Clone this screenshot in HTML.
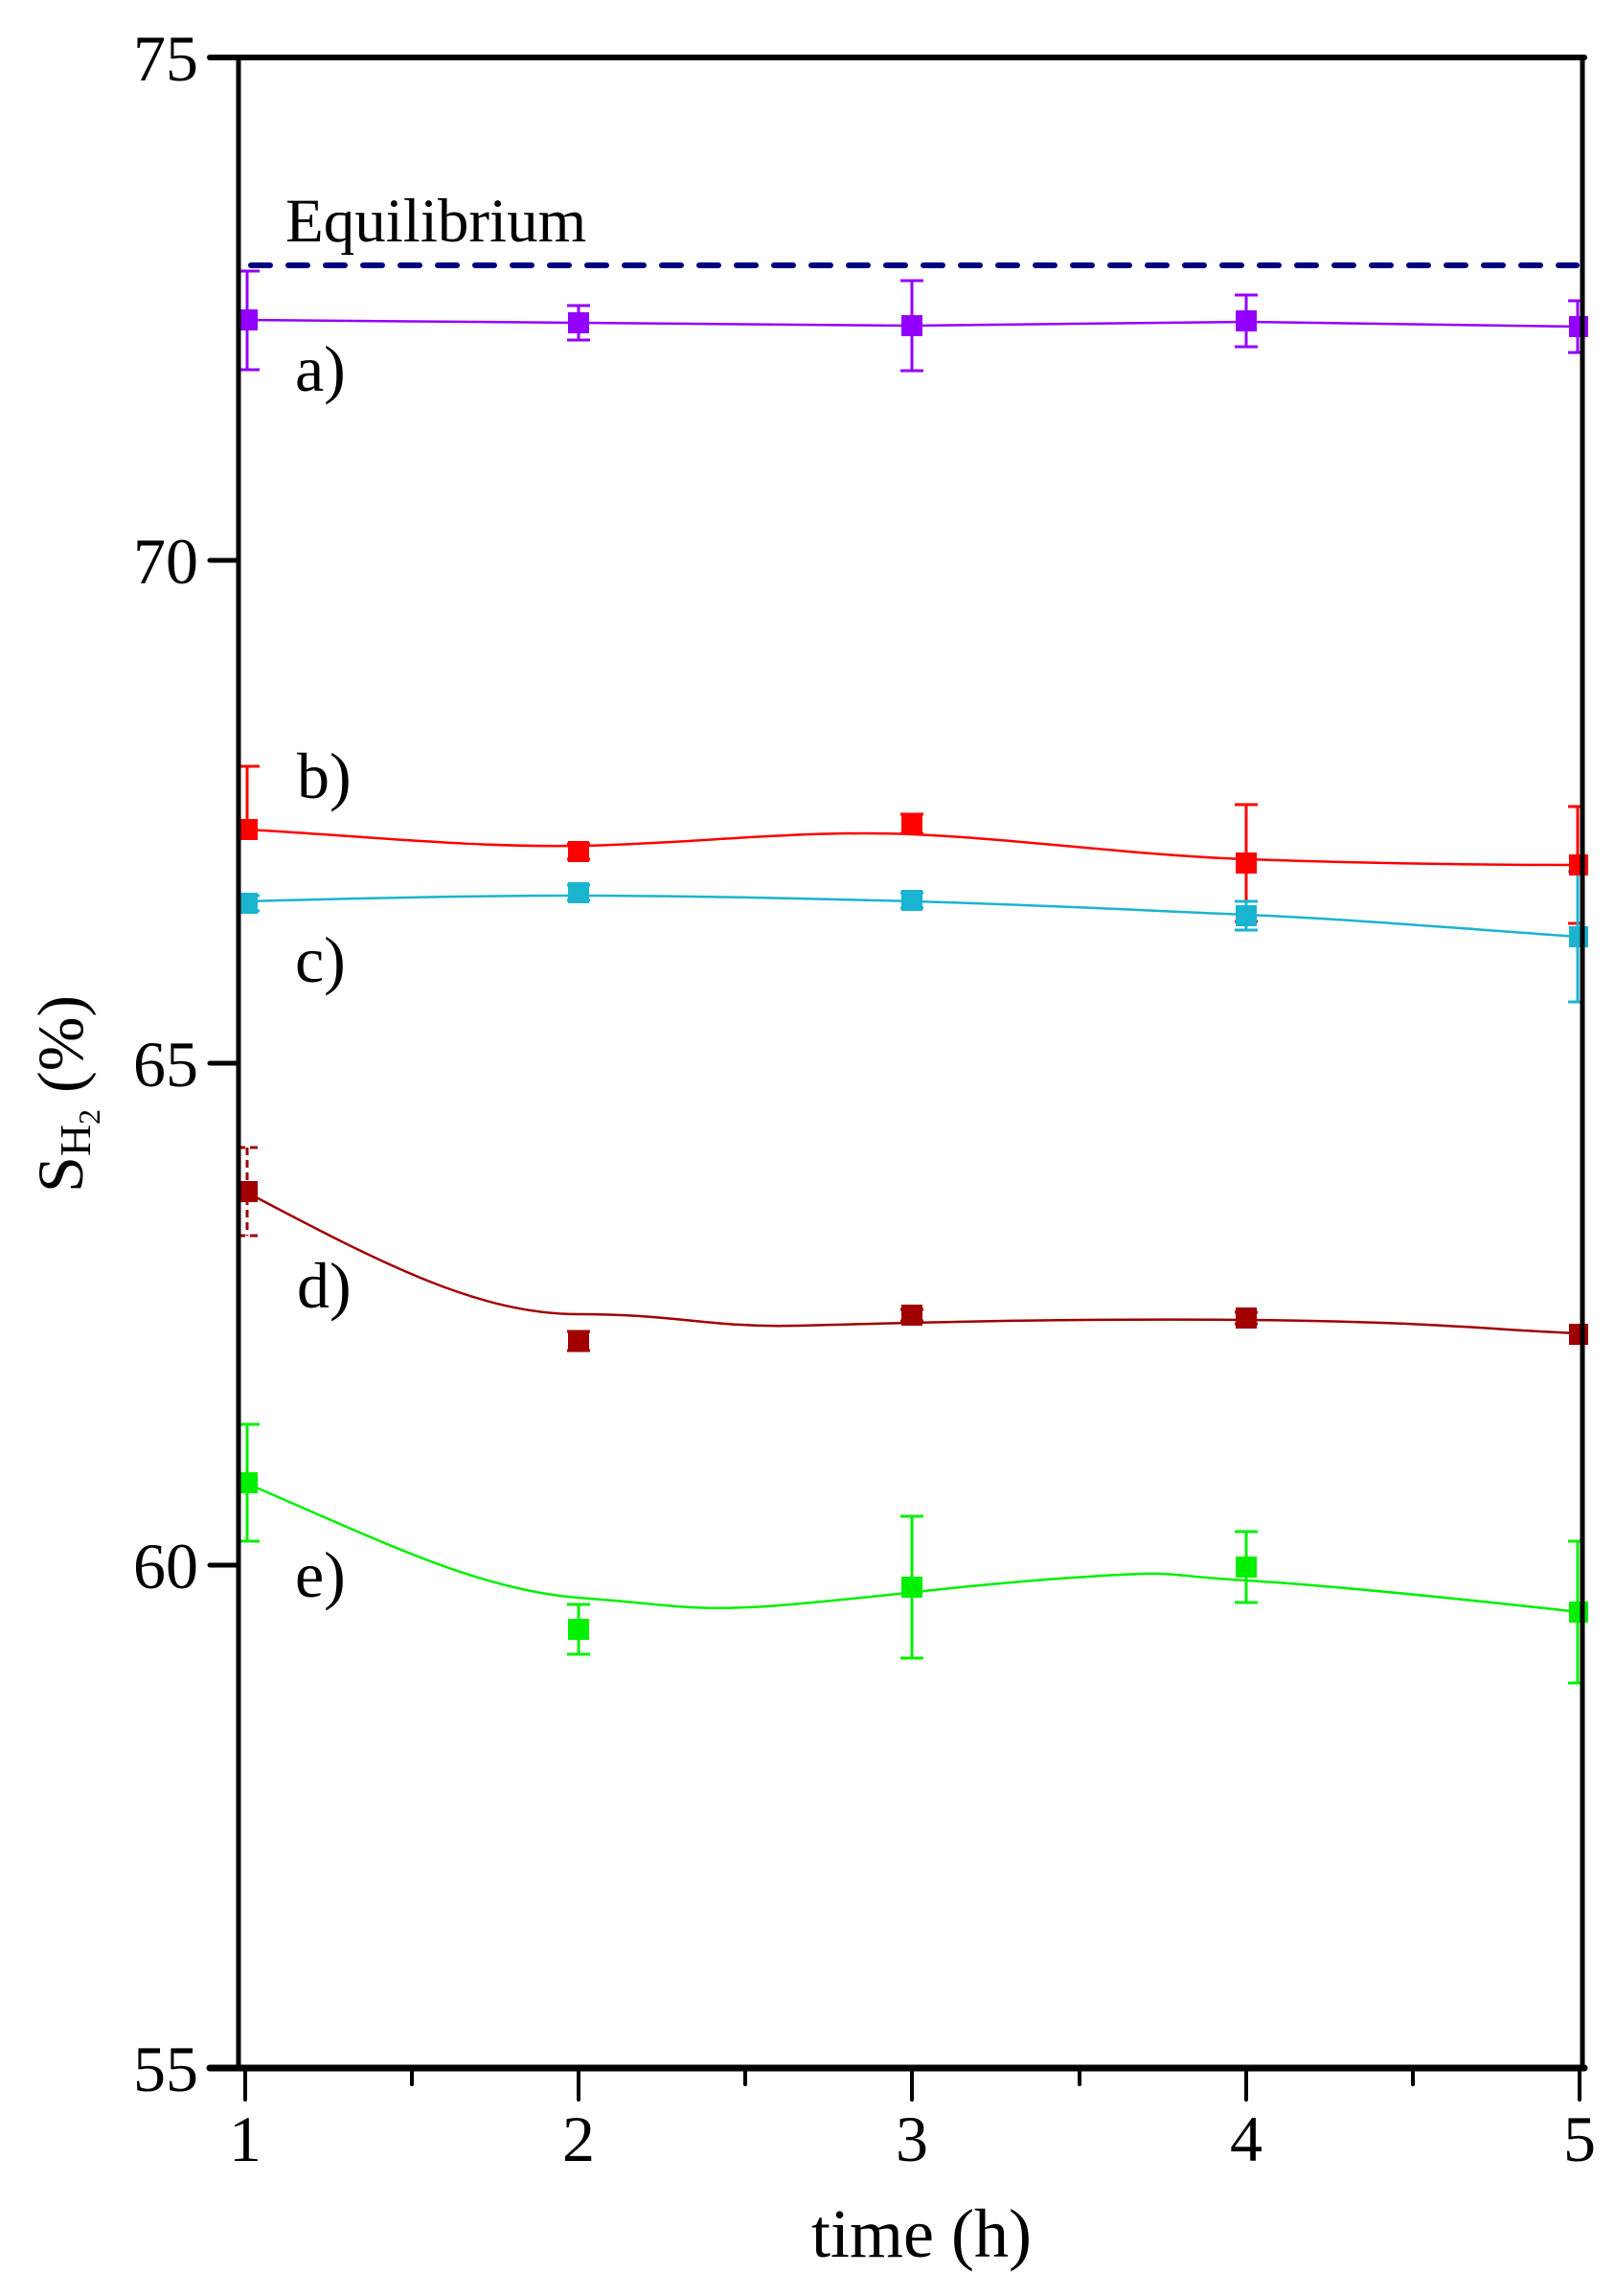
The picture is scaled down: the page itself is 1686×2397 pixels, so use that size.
<!DOCTYPE html>
<html><head><meta charset="utf-8"><style>body{margin:0;background:#fff}svg{display:block}</style></head>
<body>
<svg width="1686" height="2397" viewBox="0 0 1686 2397" xmlns="http://www.w3.org/2000/svg" font-family="Liberation Serif, serif">
<rect width="1686" height="2397" fill="#fff"/>
<line x1="262" y1="277" x2="1646" y2="277" stroke="#000080" stroke-width="6" stroke-dasharray="20,19" stroke-linecap="round"/>
<text x="298" y="252" font-size="65">Equilibrium</text>
<g fill="none" stroke-width="2.5">
<polyline points="256,334 604,337 952,340 1301,336 1649,341" stroke="#9400ff"/>
<path d="M256,866 C372,872 488,885 604,883 S836,866 952,871 S1185,893 1301,897 S1533,903 1649,903" stroke="#ff0000"/>
<path d="M256,941 C372,938 488,935 604,935 S836,938 952,941 S1185,950 1301,955 S1533,970 1649,978" stroke="#1ab4d0"/>
<path d="M256,1244 C400,1320 500,1372 604,1372 S740,1386 830,1384 S1100,1376 1301,1378 S1550,1388 1649,1392" stroke="#a00000"/>
<path d="M256,1548 C400,1610 500,1660 604,1668 S720,1682 800,1677 S1000,1655 1120,1647 S1200,1644 1301,1650 S1550,1672 1649,1683" stroke="#00f000"/>
</g>
<g stroke-width="3" fill="none">
<g stroke="#9400ff">
<path d="M258,283V386M248,283h23M248,386h23"/>
<path d="M604,319V355M592,319h24M592,355h24"/>
<path d="M952,293V387M940,293h24M940,387h24"/>
<path d="M1301,308V362M1289,308h24M1289,362h24"/>
<path d="M1647,314V368M1637,314h14M1637,368h14"/>
</g>
<g stroke="#ff0000">
<path d="M258,800V866M248,800h23"/>
<path d="M604,881V897M592,881h24M592,897h24"/>
<path d="M952,850V870M940,850h24M940,870h24"/>
<path d="M1301,840V962M1289,840h24M1289,962h24"/>
<path d="M1647,842V964M1637,842h14M1637,964h14"/>
</g>
<g stroke="#1ab4d0">
<path d="M258,935V951M248,935h23M248,951h23"/>
<path d="M604,924V940M592,924h24M592,940h24"/>
<path d="M952,932V948M940,932h24M940,948h24"/>
<path d="M1301,941V971M1289,941h24M1289,971h24"/>
<path d="M1647,910V1046M1637,910h14M1637,1046h14"/>
</g>
<g stroke="#a00000">
<path d="M258,1198V1290M248,1198h23M248,1290h23" stroke-dasharray="8,5"/>
<path d="M604,1390V1410M592,1390h24M592,1410h24"/>
<path d="M952,1367V1379M940,1367h24M940,1379h24"/>
<path d="M1301,1370V1382M1289,1370h24M1289,1382h24"/>
</g>
<g stroke="#00f000">
<path d="M258,1487V1609M248,1487h23M248,1609h23"/>
<path d="M604,1675V1727M592,1675h24M592,1727h24"/>
<path d="M952,1583V1731M940,1583h24M940,1731h24"/>
<path d="M1301,1599V1673M1289,1599h24M1289,1673h24"/>
<path d="M1647,1609V1757M1637,1609h14M1637,1757h14"/>
</g>
</g>
<g>
<g fill="#9400ff"><rect x="249" y="323" width="20" height="22"/><rect x="593" y="326" width="22" height="22"/><rect x="941" y="329" width="22" height="22"/><rect x="1290" y="324" width="22" height="22"/><rect x="1638" y="330" width="20" height="22"/></g>
<g fill="#ff0000"><rect x="249" y="855" width="20" height="22"/><rect x="593" y="878" width="22" height="22"/><rect x="941" y="849" width="22" height="22"/><rect x="1290" y="890" width="22" height="22"/><rect x="1638" y="892" width="20" height="22"/></g>
<g fill="#1ab4d0"><rect x="249" y="932" width="20" height="22"/><rect x="593" y="921" width="22" height="22"/><rect x="941" y="929" width="22" height="22"/><rect x="1290" y="945" width="22" height="22"/><rect x="1638" y="967" width="20" height="22"/></g>
<g fill="#a00000"><rect x="249" y="1233" width="20" height="22"/><rect x="593" y="1389" width="22" height="22"/><rect x="941" y="1362" width="22" height="22"/><rect x="1290" y="1365" width="22" height="22"/><rect x="1638" y="1382" width="20" height="22"/></g>
<g fill="#00f000"><rect x="249" y="1537" width="20" height="22"/><rect x="593" y="1690" width="22" height="22"/><rect x="941" y="1646" width="22" height="22"/><rect x="1290" y="1625" width="22" height="22"/><rect x="1638" y="1672" width="20" height="22"/></g>
</g>
<g font-size="68">
<text x="308" y="408">a)</text>
<text x="310" y="833">b)</text>
<text x="308" y="1025">c)</text>
<text x="310" y="1365">d)</text>
<text x="308" y="1667">e)</text>
</g>
<g stroke="#000" fill="none" stroke-linecap="round">
<line x1="249" y1="60" x2="249" y2="2159" stroke-width="5"/>
<line x1="1652" y1="60" x2="1652" y2="2159" stroke-width="5"/>
<line x1="219" y1="60" x2="1654" y2="60" stroke-width="6"/>
<line x1="219" y1="2159" x2="1654" y2="2159" stroke-width="7"/>
<path d="M219,585H249M219,1110H249M219,1634H249" stroke-width="5"/>
<path d="M256,2159V2192M604,2159V2192M952,2159V2192M1301,2159V2192M1649,2159V2192" stroke-width="4"/>
<path d="M430,2159V2176M778,2159V2176M1127,2159V2176M1475,2159V2176" stroke-width="4"/>
</g>
<g font-size="68" text-anchor="end">
<text x="207" y="84">75</text>
<text x="207" y="609">70</text>
<text x="207" y="1134">65</text>
<text x="207" y="1658">60</text>
<text x="207" y="2183">55</text>
</g>
<g font-size="68" text-anchor="middle">
<text x="256" y="2256">1</text>
<text x="604" y="2256">2</text>
<text x="952" y="2256">3</text>
<text x="1301" y="2256">4</text>
<text x="1649" y="2256">5</text>
</g>
<text x="962" y="2356" font-size="72" text-anchor="middle">time (h)</text>
<text transform="translate(86,1142) rotate(-90)" font-size="68" text-anchor="middle">S<tspan font-size="46" dy="8">H</tspan><tspan font-size="32" dy="10">2</tspan><tspan dy="-18"> (%)</tspan></text>
</svg>
</body></html>
